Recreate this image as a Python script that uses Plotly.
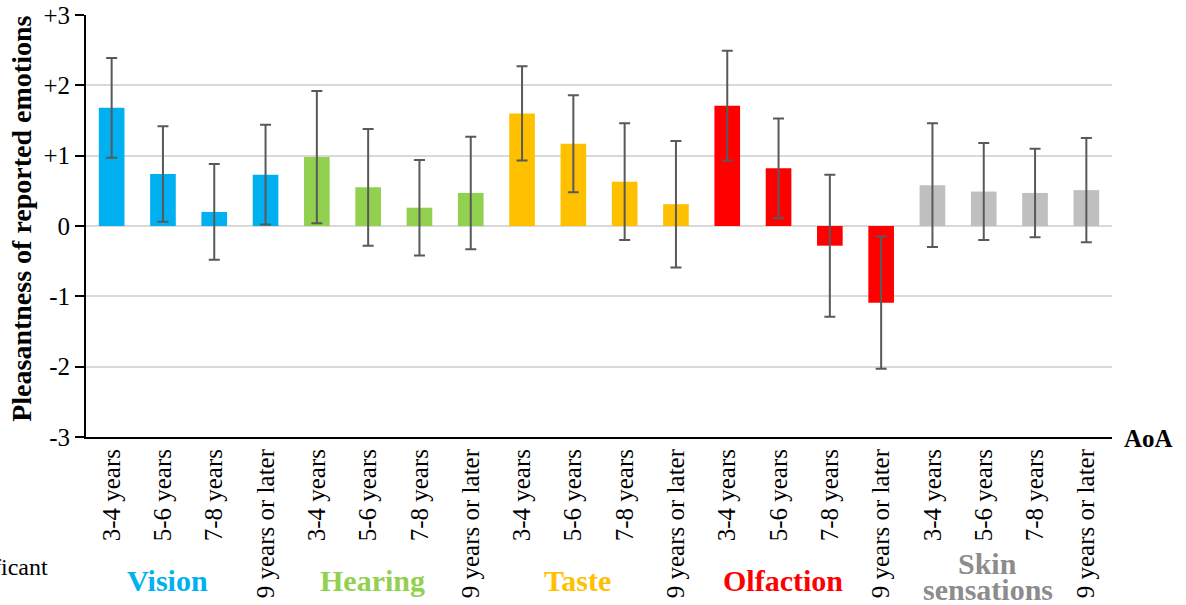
import plotly.graph_objects as go

# ---- data ----
ages = ["3-4 years", "5-6 years", "7-8 years", "9 years or later"]
senses = ["Vision", "Hearing", "Taste", "Olfaction", "Skin sensations"]
sense_colors = ["#00B0F0", "#92D050", "#FFC000", "#FF0000", "#BFBFBF"]
label_colors = ["#00B0F0", "#92D050", "#FFC000", "#FF0000", "#8C8C8C"]

vision_mean = [1.68, 0.74, 0.20, 0.73]
vision_err = [0.71, 0.68, 0.68, 0.71]
hearing_mean = [0.98, 0.55, 0.26, 0.47]
hearing_err = [0.94, 0.83, 0.68, 0.80]
taste_mean = [1.60, 1.17, 0.63, 0.31]
taste_err = [0.67, 0.69, 0.83, 0.90]
olfaction_mean = [1.71, 0.82, -0.28, -1.09]
olfaction_err = [0.78, 0.71, 1.01, 0.94]
skin_mean = [0.58, 0.49, 0.47, 0.51]
skin_err = [0.88, 0.69, 0.63, 0.74]

y_tickvals = [3, 2, 1, 0, -1, -2, -3]
y_ticktext = ["+3", "+2", "+1", "0", "-1", "-2", "-3"]

means = [vision_mean, hearing_mean, taste_mean, olfaction_mean, skin_mean]
errs = [vision_err, hearing_err, taste_err, olfaction_err, skin_err]

FONT = "Liberation Serif"

fig = go.Figure()
n_age = len(ages)
for g, (name, m, e, c) in enumerate(zip(senses, means, errs, sense_colors)):
    xs = [g * n_age + i for i in range(n_age)]
    fig.add_trace(go.Bar(
        x=xs, y=m, name=name, width=0.5,
        marker=dict(color=c, line=dict(width=0)),
        error_y=dict(type="data", array=e, visible=True,
                     color="#595959", thickness=2, width=5.5),
        showlegend=False,
    ))

all_x = list(range(len(senses) * n_age))
all_text = ages * len(senses)

fig.update_layout(
    width=1186, height=605,
    margin=dict(l=86, r=74, t=15, b=168),
    plot_bgcolor="white", paper_bgcolor="white",
    barmode="overlay",
    font=dict(family=FONT, color="black", size=24),
    xaxis=dict(
        range=[-0.5, len(all_x) - 0.5], automargin=False,
        tickmode="array", tickvals=all_x, ticktext=all_text,
        tickangle=-90, tickfont=dict(size=25, family=FONT, color="black"),
        showgrid=False, zeroline=False,
        showline=True, linecolor="black", linewidth=2,
        ticks="", ticklen=0,
    ),
    yaxis=dict(
        range=[-3, 3], automargin=False,
        tickmode="array", tickvals=y_tickvals, ticktext=y_ticktext,
        tickfont=dict(size=25, family=FONT, color="black"),
        showgrid=True, gridcolor="#D9D9D9", gridwidth=2,
        zeroline=False,
        showline=True, linecolor="black", linewidth=2,
        ticks="outside", ticklen=9, tickcolor="black", tickwidth=2,
    ),
)

# y-axis title
fig.add_annotation(
    text="<b>Pleasantness of reported emotions</b>",
    xref="paper", yref="paper", x=-0.0624, y=0.517,
    xanchor="center", yanchor="middle", textangle=-90,
    showarrow=False, font=dict(size=28, family=FONT, color="black"),
)

# AoA label
fig.add_annotation(
    text="<b>AoA</b>", xref="paper", yref="paper", x=1, y=0,
    xanchor="left", yanchor="middle", xshift=10, yshift=-1,
    showarrow=False, font=dict(size=25, family=FONT, color="black"),
)

# truncated legend text at left edge
fig.add_annotation(
    text="ficant", xref="paper", yref="paper", x=-0.0351, y=-0.308,
    xanchor="right", yanchor="middle",
    showarrow=False, font=dict(size=24, family=FONT, color="black"),
)

# group labels
for g, (name, c) in enumerate(zip(senses, label_colors)):
    xc = g * n_age + 1.08
    if name == "Skin sensations":
        parts = name.split(" ")
        fig.add_annotation(text="<b>%s</b>" % parts[0], xref="x", yref="paper",
                           x=xc, y=-0.30, xanchor="center", yanchor="middle",
                           showarrow=False, font=dict(size=30, family=FONT, color=c))
        fig.add_annotation(text="<b>%s</b>" % parts[1], xref="x", yref="paper",
                           x=xc, y=-0.362, xanchor="center", yanchor="middle",
                           showarrow=False, font=dict(size=30, family=FONT, color=c))
    else:
        fig.add_annotation(text="<b>%s</b>" % name, xref="x", yref="paper",
                           x=xc, y=-0.34, xanchor="center", yanchor="middle",
                           showarrow=False, font=dict(size=30, family=FONT, color=c))

fig.write_html("out.html", config={"displayModeBar": False},
               post_script="document.body.style.margin='0px';")
